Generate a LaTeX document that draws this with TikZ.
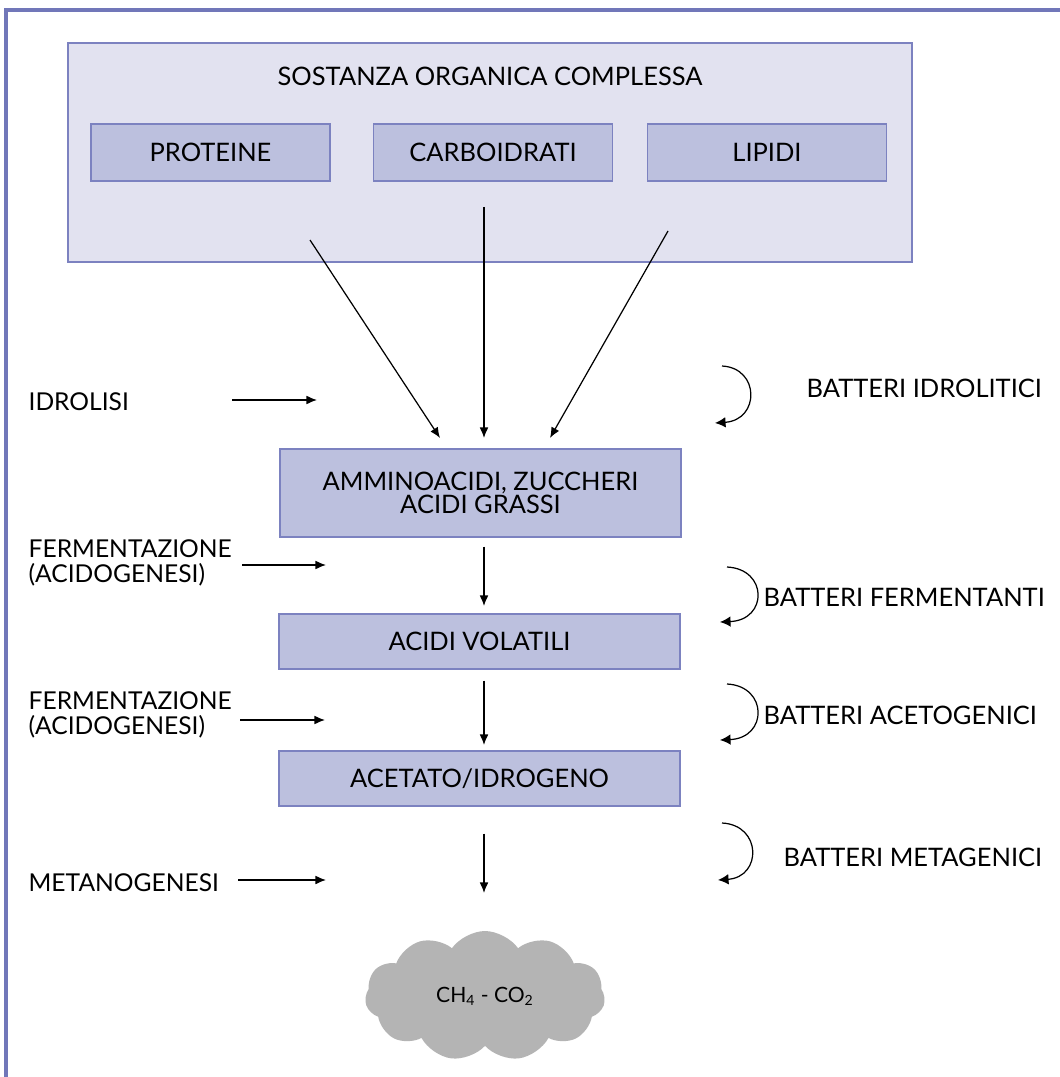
\documentclass[tikz,border=0pt]{standalone}
\usepackage{fontspec}
\setmainfont{Lato}
\usetikzlibrary{arrows.meta,shapes.symbols}
\definecolor{frameblue}{HTML}{7177B9}
\definecolor{boxline}{HTML}{7C82C0}
\definecolor{outerfill}{HTML}{E2E2F0}
\definecolor{innerfill}{HTML}{BCC0DE}
\definecolor{cloudgrey}{HTML}{B4B4B4}

\begin{document}
\begin{tikzpicture}[x=0.02cm,y=-0.02cm,line width=0.7pt,
	every node/.style={inner sep=0pt,font=\fontsize{14.5}{12.5}\selectfont},
	outer/.style={draw=boxline,fill=outerfill,minimum width=16.88cm,minimum height=4.38cm},
	inner/.style={draw=boxline,fill=innerfill,minimum width=4.78cm,minimum height=1.14cm},
	stage/.style={draw=boxline,fill=innerfill,minimum width=8.02cm,minimum height=1.1cm,align=center},
	flow/.style={-{Latex[length=6pt,width=5pt]}},
	turn/.style={-{Latex[length=6pt,width=6pt]}},
	phase/.style={anchor=west,align=left,font=\fontsize{14}{14.5}\selectfont},
	bacteria/.style={anchor=west}]
			\useasboundingbox (0,0) rectangle (1060,1077);
			\fill[white] (0,0) rectangle (1060,1077);
			\draw[frameblue,line width=2.3pt] (6,1077) -- (6,10) -- (1060,10);

			% substrato
			\node[outer] (organica) at (490,152.5) {};
			\node (titolo) at (490,76) {SOSTANZA ORGANICA COMPLESSA};
			\node[inner] (proteine) at (210.5,152.5) {PROTEINE};
			\node[inner] (carboidrati) at (493,152.5) {CARBOIDRATI};
			\node[inner] (lipidi) at (767,152.5) {LIPIDI};

			% prodotti
			\node[stage,minimum height=1.76cm,font=\fontsize{14.5}{12}\selectfont] (amminoacidi) at (480.5,493) {AMMINOACIDI, ZUCCHERI\\ACIDI GRASSI};
			\node[stage] (volatili) at (479.5,641.5) {ACIDI VOLATILI};
			\node[stage] (acetato) at (479.5,778.5) {ACETATO/IDROGENO};
			\node[cloud,cloud puffs=11,cloud puff arc=110,aspect=1.9,fill=cloudgrey,
				minimum width=4.8cm,minimum height=2.6cm,font=\fontsize{12}{12}\selectfont] (biogas) at (485,996) {CH\textsubscript{4} - CO\textsubscript{2}};

			\coordinate (p0) at (310,240);
			\coordinate (p1) at (440,438);
			\coordinate (c0) at (484,207);
			\coordinate (c1) at (484,438);
			\coordinate (l0) at (668,231);
			\coordinate (l1) at (550,438);
			\draw[flow] (p0) -- (p1);
			\draw[flow] (c0) -- (c1);
			\draw[flow] (l0) -- (l1);
			\draw[flow] (amminoacidi.south -| 484,0) ++(0,9) coordinate (a0) -- (484,606) coordinate (a1);
			\draw[flow] (volatili.south -| 484,0) ++(0,11) coordinate (v0) -- (484,745) coordinate (v1);
			\draw[flow] (acetato.south -| 484,0) ++(0,27) coordinate (t0) -- (484,893) coordinate (t1);

			% fasi
			\node[phase] (idrolisi) at (28,402) {IDROLISI};
			\node[phase] (ferm1) at (28,563) {FERMENTAZIONE\\(ACIDOGENESI)};
			\node[phase] (ferm2) at (28,715) {FERMENTAZIONE\\(ACIDOGENESI)};
			\node[phase] (metano) at (28,883) {METANOGENESI};
			\draw[flow] (242,565) -- (326,565);
			\draw[flow] (232,400) -- (317,400);
			\draw[flow] (240,720) -- (325,720);
			\draw[flow] (238,880) -- (326,880);

			% batteri
			\node[bacteria] (idrolitici) at (806,388) {BATTERI IDROLITICI};
			\node[bacteria] (fermentanti) at (763,597) {BATTERI FERMENTANTI};
			\node[bacteria] (acetogenici) at (763,715) {BATTERI ACETOGENICI};
			\node[bacteria] (metagenici) at (783,857) {BATTERI METAGENICI};
			\draw[turn] (722,366) .. controls (760,368) and (760,420) .. (715,423);
			\draw[turn] (727,567) .. controls (768,569) and (768,620) .. (720,622);
			\draw[turn] (727,684) .. controls (768,686) and (768,738) .. (720,740);
			\draw[turn] (722,823) .. controls (762,825) and (762,877) .. (718,880);
		\end{tikzpicture}
\end{document}
